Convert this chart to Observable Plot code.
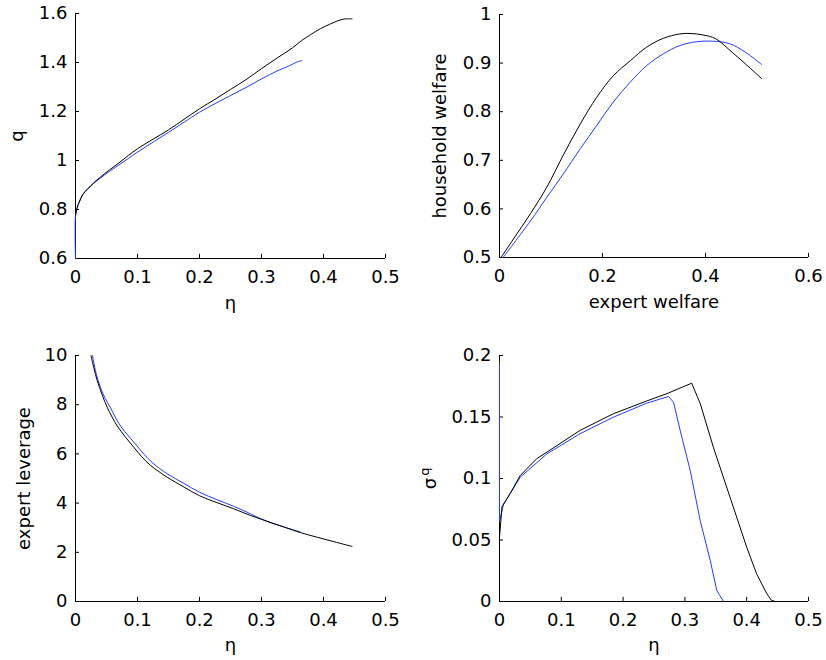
<!DOCTYPE html>
<html><head><meta charset="utf-8">
<script src="https://cdn.jsdelivr.net/npm/d3@7"></script>
<script src="https://cdn.jsdelivr.net/npm/@observablehq/plot@0.6"></script>
<style>
body{margin:0;background:#fff;}
#fig{position:relative;width:826px;height:660px;overflow:hidden;}
#fig > svg{position:absolute;}
</style></head><body><div id="fig"></div>
<script>
// ---- Panel 1: q vs eta ----
const etaQBlack = [0, 0.003, 0.006, 0.012, 0.02, 0.03, 0.04, 0.055, 0.07, 0.085, 0.1, 0.125, 0.15, 0.175, 0.2, 0.225, 0.25, 0.275, 0.3, 0.325, 0.35, 0.365, 0.38, 0.395, 0.41, 0.425, 0.435, 0.446];
const qBlack = [0.775, 0.81, 0.83, 0.862, 0.885, 0.91, 0.932, 0.962, 0.99, 1.02, 1.048, 1.087, 1.125, 1.168, 1.211, 1.25, 1.29, 1.33, 1.375, 1.418, 1.46, 1.49, 1.515, 1.538, 1.556, 1.572, 1.578, 1.578];
const etaQBlue = [0, 0, 0.003, 0.006, 0.012, 0.02, 0.03, 0.04, 0.055, 0.07, 0.085, 0.1, 0.125, 0.15, 0.175, 0.2, 0.225, 0.25, 0.275, 0.3, 0.325, 0.34, 0.35, 0.358, 0.365];
const qBlue = [0.6, 0.775, 0.81, 0.83, 0.862, 0.885, 0.908, 0.928, 0.956, 0.982, 1.008, 1.034, 1.075, 1.115, 1.156, 1.197, 1.232, 1.265, 1.298, 1.333, 1.365, 1.381, 1.393, 1.403, 1.408];
const qXTicks = [0, 0.1, 0.2, 0.3, 0.4, 0.5];
const qYTicks = [0.6, 0.8, 1, 1.2, 1.4, 1.6];

// ---- Panel 2: household welfare vs expert welfare ----
const expWBlack = [0.003, 0.027, 0.06, 0.092, 0.124, 0.157, 0.189, 0.221, 0.254, 0.286, 0.318, 0.35, 0.37, 0.395, 0.42, 0.452, 0.478, 0.509];
const hhWBlack = [0.5, 0.538, 0.59, 0.645, 0.711, 0.775, 0.83, 0.874, 0.905, 0.933, 0.951, 0.96, 0.961, 0.958, 0.95, 0.922, 0.898, 0.868];
const expWBlue = [0.007, 0.06, 0.092, 0.124, 0.157, 0.189, 0.221, 0.254, 0.286, 0.318, 0.35, 0.383, 0.415, 0.447, 0.478, 0.509];
const hhWBlue = [0.5, 0.575, 0.624, 0.672, 0.724, 0.772, 0.82, 0.861, 0.895, 0.919, 0.936, 0.944, 0.945, 0.94, 0.922, 0.897];
const wXTicks = [0, 0.2, 0.4, 0.6];
const wYTicks = [0.5, 0.6, 0.7, 0.8, 0.9, 1];

// ---- Panel 3: expert leverage vs eta ----
const etaLBlack = [0.025, 0.03, 0.035, 0.043, 0.051, 0.059, 0.067, 0.08, 0.094, 0.107, 0.121, 0.135, 0.148, 0.175, 0.2, 0.228, 0.255, 0.282, 0.309, 0.336, 0.363, 0.39, 0.417, 0.446];
const levBlack = [10, 9.45, 8.98, 8.4, 7.9, 7.5, 7.15, 6.7, 6.27, 5.88, 5.53, 5.27, 5.05, 4.65, 4.3, 4.02, 3.77, 3.5, 3.26, 3.03, 2.8, 2.61, 2.43, 2.24];
const etaLBlue = [0.0274, 0.033, 0.04, 0.048, 0.056, 0.065, 0.075, 0.094, 0.11, 0.125, 0.148, 0.175, 0.2, 0.228, 0.255, 0.275, 0.293, 0.31, 0.33, 0.35, 0.363];
const levBlue = [10, 9.3, 8.72, 8.25, 7.9, 7.45, 7.05, 6.48, 6.0, 5.62, 5.19, 4.8, 4.44, 4.14, 3.87, 3.65, 3.43, 3.25, 3.08, 2.92, 2.82];
const lXTicks = [0, 0.1, 0.2, 0.3, 0.4, 0.5];
const lYTicks = [0, 2, 4, 6, 8, 10];

// ---- Panel 4: sigma^q vs eta ----
const etaSBlack = [0, 0.004, 0.017, 0.0335, 0.06, 0.093, 0.13, 0.184, 0.238, 0.271, 0.311, 0.325, 0.346, 0.373, 0.4, 0.416, 0.4326, 0.44, 0.446];
const sigBlack = [0.052, 0.077, 0.0876, 0.1024, 0.116, 0.1268, 0.139, 0.1526, 0.163, 0.169, 0.1775, 0.1607, 0.1255, 0.0848, 0.0442, 0.0225, 0.0063, 0.001, 0];
const etaSBlue = [0, 0, 0.0065, 0.0335, 0.0766, 0.13, 0.184, 0.238, 0.2735, 0.2816, 0.2924, 0.3086, 0.3247, 0.341, 0.3516, 0.3625];
const sigBlue = [0.195, 0.065, 0.079, 0.101, 0.12, 0.1363, 0.1498, 0.1612, 0.1667, 0.162, 0.139, 0.1065, 0.0659, 0.0333, 0.0089, 0];
const sXTicks = [0, 0.1, 0.2, 0.3, 0.4, 0.5];
const sYTicks = [0, 0.05, 0.1, 0.15, 0.2];

const BLUE = "#1f3cff";
const FONT = "DejaVu Sans";
const fmt = d => String(Math.round(d * 1000) / 1000);

function panel(o) {
  const [x0, x1] = o.xDomain, [y0, y1] = o.yDomain;
  const tx = (x1 - x0) * 0.013, ty = (y1 - y0) * 0.017;
  const curve = o.curve || "catmull-rom";
  const marks = [
    Plot.axisX(o.xTicks, {tickSize: 0, tickPadding: 12, tickFormat: fmt, label: null}),
    Plot.axisY(o.yTicks, {tickSize: 0, tickPadding: 8, tickFormat: fmt, label: null}),
    Plot.ruleY([y0], {stroke: "#000", strokeWidth: 1}),
    Plot.ruleX([x0], {stroke: "#000", strokeWidth: 1}),
    Plot.ruleX(o.xTicks, {x: d => d, y1: y0, y2: y0 + ty, stroke: "#000"}),
    Plot.ruleY(o.yTicks, {y: d => d, x1: x0, x2: x0 + tx, stroke: "#000"}),
    Plot.line(o.yb, {x: o.xb, y: o.yb, stroke: BLUE, strokeWidth: 1, curve}),
    Plot.line(o.yk, {x: o.xk, y: o.yk, stroke: "#000", strokeWidth: 1, curve}),
    Plot.text([o.xLabel], {frameAnchor: "bottom", dy: o.xLabelDy, lineAnchor: "bottom", textAnchor: "middle", text: d => d, fontSize: 18}),
  ];
  if (o.yLabel) marks.push(Plot.text([o.yLabel], {frameAnchor: "left", dx: o.yLabelDx, rotate: -90, lineAnchor: "bottom", textAnchor: "middle", text: d => d, fontSize: 18}));
  if (o.extra) marks.push(...o.extra);
  const svg = Plot.plot({
    width: 413, height: 330,
    marginLeft: o.mL, marginRight: o.mR, marginTop: o.mT, marginBottom: o.mB,
    x: {domain: o.xDomain, ticks: o.xTicks},
    y: {domain: o.yDomain, ticks: o.yTicks},
    style: {fontFamily: FONT, fontSize: "18px", color: "#000", background: "transparent", overflow: "visible"},
    marks
  });
  svg.style.left = o.left + "px";
  svg.style.top = o.top + "px";
  document.getElementById("fig").appendChild(svg);
}

panel({left: 0, top: 0, mL: 75, mR: 28, mT: 13, mB: 72,
  xDomain: [0, 0.5], yDomain: [0.6, 1.6], xTicks: qXTicks, yTicks: qYTicks,
  xk: etaQBlack, yk: qBlack, xb: etaQBlue, yb: qBlue,
  xLabel: "η", xLabelDy: 50, yLabel: "q", yLabelDx: -53});

panel({left: 413, top: 0, mL: 86, mR: 18, mT: 14, mB: 73,
  xDomain: [0, 0.6], yDomain: [0.5, 1], xTicks: wXTicks, yTicks: wYTicks,
  xk: expWBlack, yk: hhWBlack, xb: expWBlue, yb: hhWBlue,
  xLabel: "expert welfare", xLabelDy: 50, yLabel: "household welfare", yLabelDx: -54});

panel({left: 0, top: 330, mL: 75, mR: 28, mT: 25, mB: 59,
  xDomain: [0, 0.5], yDomain: [0, 10], xTicks: lXTicks, yTicks: lYTicks,
  xk: etaLBlack, yk: levBlack, xb: etaLBlue, yb: levBlue,
  xLabel: "η", xLabelDy: 49, yLabel: "expert leverage", yLabelDx: -46});

panel({left: 413, top: 330, mL: 86, mR: 18, mT: 25, mB: 59,
  xDomain: [0, 0.5], yDomain: [0, 0.2], xTicks: sXTicks, yTicks: sYTicks,
  xk: etaSBlack, yk: sigBlack, xb: etaSBlue, yb: sigBlue, curve: "linear",
  xLabel: "η", xLabelDy: 49, yLabel: null,
  extra: [
    Plot.text(["σ"], {frameAnchor: "left", dx: -64, dy: 5, rotate: -90, lineAnchor: "bottom", textAnchor: "middle", text: d => d, fontSize: 18}),
    Plot.text(["q"], {frameAnchor: "left", dx: -71, dy: -7, rotate: -90, lineAnchor: "bottom", textAnchor: "middle", text: d => d, fontSize: 13})
  ]});
</script>
</body></html>
